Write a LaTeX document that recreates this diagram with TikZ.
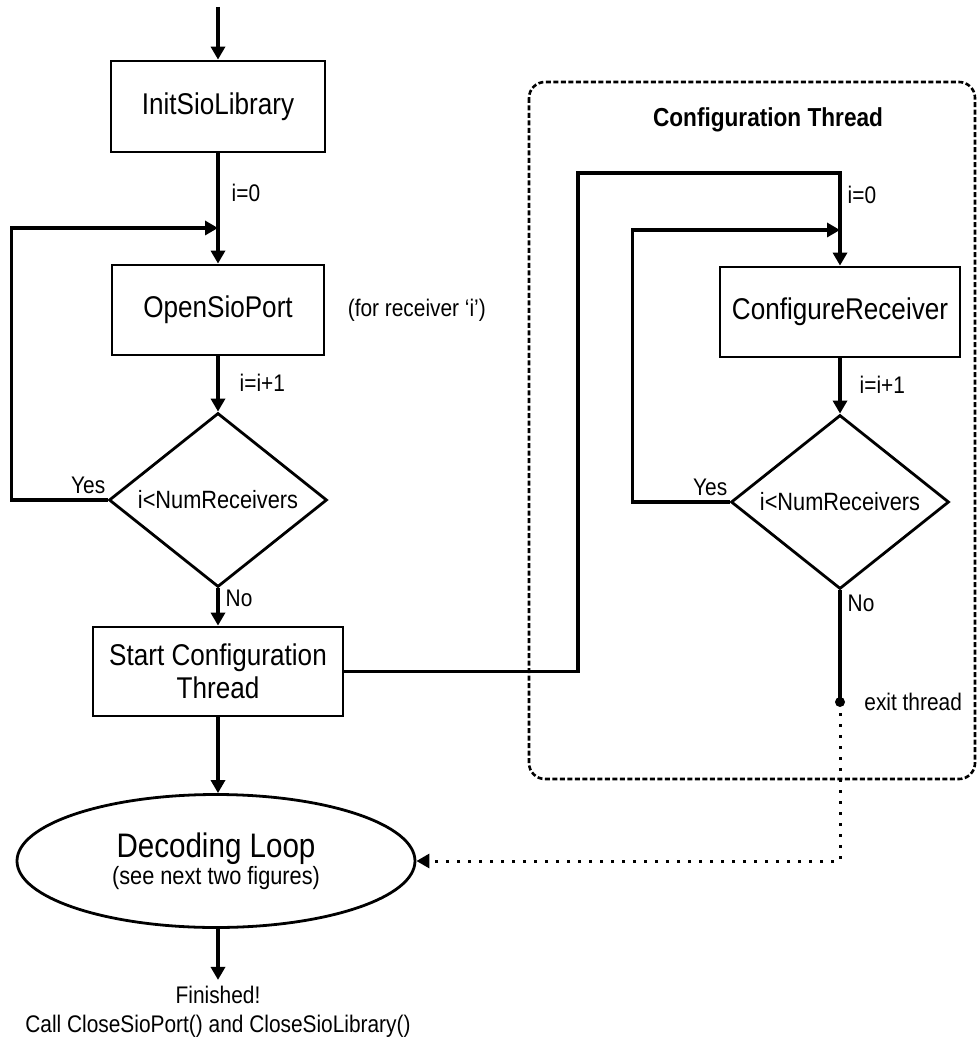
\documentclass[tikz,border=0pt]{standalone}
\usepackage{fontspec}
\setmainfont[FakeStretch=0.87]{Liberation Sans}
\usetikzlibrary{shapes.geometric, arrows.meta, positioning}

\begin{document}
\begin{tikzpicture}[
    x=0.5pt, y=-0.5pt,
    process/.style = {rectangle, draw, line width=1.4pt, align=center, inner sep=0pt, font=\fontsize{15pt}{16.5pt}\selectfont},
    decision/.style = {diamond, draw, line width=1.4pt, shape aspect=1.25, inner sep=0pt, minimum width=109pt, minimum height=87pt, font=\fontsize{12.5pt}{15pt}\selectfont},
    terminator/.style = {ellipse, draw, line width=1.4pt, inner sep=0pt, align=center, font=\fontsize{17pt}{12pt}\selectfont},
    lbl/.style = {inner sep=3pt, font=\fontsize{12pt}{14.5pt}\selectfont},
    flow/.style = {line width=1.7pt},
    exitflow/.style = {line width=1.5pt, dash pattern=on 1.5pt off 4pt},
    frame/.style = {line width=1.3pt, dash pattern=on 2.5pt off 1.25pt, rounded corners=8pt},
    >={Triangle[length=6.5pt, width=7pt]}]

    \useasboundingbox (0,0) rectangle (977,1042);

    % main thread
    \node[process, minimum width=107pt, minimum height=45.5pt] (init) at (218,106.5) {InitSioLibrary};
    \node[process, minimum width=106pt, minimum height=45pt] (open) at (218,310) {OpenSioPort};
    \node[lbl, right=8pt of open] (rxnote) {(for receiver `i')};
    \node[decision] (test1) at (218,500) {i<NumReceivers};
    \node[process, minimum width=125pt, minimum height=44.5pt] (start) at (218,671.5) {Start Configuration\\Thread};
    \node[terminator, minimum width=199pt, minimum height=66.5pt] (dec) at (216,861) {Decoding Loop\\{\fontsize{12.5pt}{12pt}\selectfont (see next two figures)}};
    \node[lbl, align=center] (fin) at (218,1012) {Finished!\\Call CloseSioPort() and CloseSioLibrary()};

    % configuration thread
    \draw[frame] (529,82) rectangle (975,779);
    \node[font=\bfseries\fontsize{13pt}{15pt}\selectfont] (ttl) at (768,120) {Configuration Thread};
    \node[process, minimum width=120pt, minimum height=45pt] (conf) at (840,312) {ConfigureReceiver};
    \node[decision] (test2) at (840,502) {i<NumReceivers};
    \coordinate (exitpt) at (840,702);
    \fill (exitpt) circle (2.5pt);
    \node[lbl, right=9pt of exitpt] (exitlbl) {exit thread};

    % connectors
    \coordinate (entry) at (218,7);
    \coordinate (join1) at (218,228);
    \coordinate (join2) at (840,230);
    \coordinate (outer) at (578,173);

    \draw[flow,->] (entry) -- (init);
    \draw[flow,->] (init) -- node[lbl, right, pos=.36, xshift=3pt] {i=0} (open);
    \draw[flow,->] (open) -- node[lbl, right, pos=.47, xshift=7pt] {i=i+1} (test1);
    \draw[flow,->] (test1.west) -- ++(-96,0) |- (join1);
    \node[lbl, anchor=south east, inner xsep=1pt, inner ysep=3pt] (yes1) at (test1.west) {Yes};
    \draw[flow,->] (test1) -- node[lbl, right, pos=.28] {No} (start);
    \draw[flow,->] (start.south) -- (start.south |- dec.north);
    \draw[flow,->] (dec.south -| fin.north) -- (fin.north);

    \draw[flow,->] (start.east) -| (outer) -| node[lbl, right, pos=.62] {i=0} (conf.north);
    \draw[flow,->] (conf) -- node[lbl, right, pos=.48, xshift=6pt] {i=i+1} (test2);
    \draw[flow,->] (test2.west) -- ++(-97,0) |- (join2);
    \node[lbl, anchor=south east, inner xsep=1pt, inner ysep=3pt] (yes2) at (test2.west) {Yes};
    \draw[flow] (test2.south) -- node[lbl, right, pos=.12] {No} (exitpt);
    \draw[exitflow,->] (exitpt) |- (dec.east);
\end{tikzpicture}
\end{document}
